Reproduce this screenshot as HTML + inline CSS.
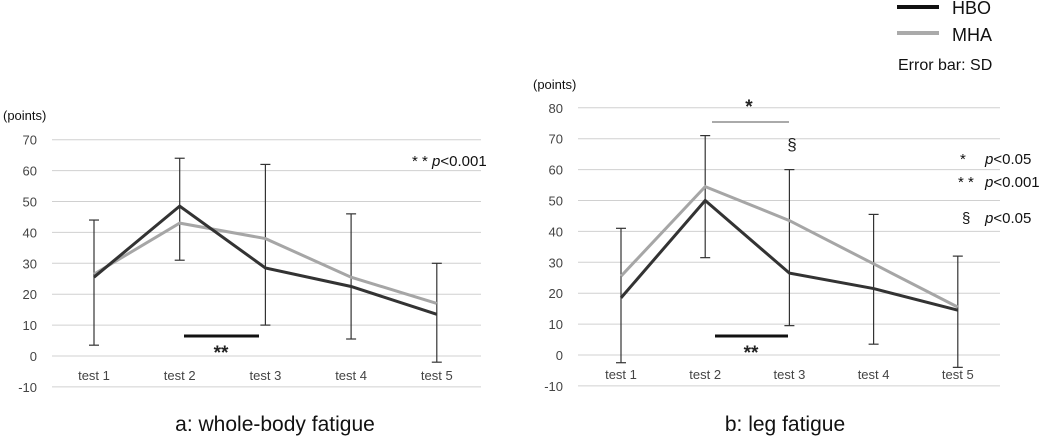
<!DOCTYPE html>
<html><head><meta charset="utf-8"><style>
html,body{margin:0;padding:0;background:#fff;}
svg{display:block;font-family:"Liberation Sans",sans-serif;}
</style></head><body>
<svg id="fig" width="1052" height="437" viewBox="0 0 1052 437">
<g id="legend">
  <line x1="897" y1="7" x2="939" y2="7" stroke="#111" stroke-width="4"/>
  <text x="952" y="14" font-size="18" fill="#111">HBO</text>
  <line x1="897" y1="33" x2="939" y2="33" stroke="#aaa" stroke-width="4"/>
  <text x="952" y="41" font-size="18" fill="#111">MHA</text>
  <text x="898" y="70" font-size="16" fill="#111">Error bar: SD</text>
</g>
</svg>
<script>
const categories = ["test 1","test 2","test 3","test 4","test 5"];
const hboA = [25.5, 48.5, 28.5, 22.5, 13.5];
const mhaA = [26.5, 43, 38, 25.5, 17];
const errLoA = [3.5, 31, 10, 5.5, -2];
const errHiA = [44, 64, 62, 46, 30];
const ticksA = [70,60,50,40,30,20,10,0,-10];
const hboB = [18.5, 50, 26.5, 21.5, 14.5];
const mhaB = [25.5, 54.5, 43.5, 29.5, 15.5];
const errLoB = [-2.5, 31.5, 9.5, 3.5, -4];
const errHiB = [41, 71, 60, 45.5, 32];
const ticksB = [80,70,60,50,40,30,20,10,0,-10];

const NS="http://www.w3.org/2000/svg";
const svg=document.getElementById('fig');
function mk(tag,attrs,parent,text){const e=document.createElementNS(NS,tag);for(const k in attrs)e.setAttribute(k,attrs[k]);if(text!==undefined)e.textContent=text;(parent||svg).appendChild(e);return e;}

function chart(cfg){
  const g=mk('g',{});
  
  
  const y=v=>cfg.y0-v*cfg.pxPer;
  const x=i=>cfg.x0+i*cfg.dx;
  cfg.ticks.forEach(t=>{
    const l=mk('line',{x1:cfg.left,x2:cfg.right,y1:y(t),y2:y(t),stroke:'#d0d0d0','stroke-width':1},g);
    
    
    const tx=mk('text',{x:cfg.left-15,y:y(t)+5,'font-size':13,fill:'#444','text-anchor':'end'},g,String(t));
    
    
  });
  categories.forEach((c,i)=>{
    const tx=mk('text',{x:x(i),y:y(0)+24,'font-size':13,fill:'#444','text-anchor':'middle'},g,c);
    
    
  });
  cfg.lo.forEach((lo,i)=>{
    const hi=cfg.hi[i];
    const eg=mk('g',{stroke:'#333','stroke-width':1.2},g);
    
    
    mk('line',{x1:x(i),x2:x(i),y1:y(lo),y2:y(hi)},eg);
    mk('line',{x1:x(i)-5,x2:x(i)+5,y1:y(lo),y2:y(lo)},eg);
    mk('line',{x1:x(i)-5,x2:x(i)+5,y1:y(hi),y2:y(hi)},eg);
  });
  const mp=mk('polyline',{points:cfg.mha.map((v,i)=>x(i)+','+y(v)).join(' '),fill:'none',stroke:'#a6a6a6','stroke-width':3},g);
  
  
  const hp=mk('polyline',{points:cfg.hbo.map((v,i)=>x(i)+','+y(v)).join(' '),fill:'none',stroke:'#333','stroke-width':3},g);
  
  
  const pt=mk('text',{x:cfg.ptsX,y:cfg.ptsY,'font-size':13,fill:'#111'},g,'(points)');
  
  
  const ti=mk('text',{x:cfg.titleX,y:431,'font-size':21,fill:'#111','text-anchor':'middle'},g,cfg.title);
  
  
  return g;
}
const gA=chart({name:'chart-a-whole-body',x0:94,dx:85.7,y0:356,pxPer:3.09,left:52,right:481,ticks:ticksA,hbo:hboA,mha:mhaA,lo:errLoA,hi:errHiA,ptsX:3,ptsY:120,titleX:275,title:'a: whole-body fatigue'});
const gB=chart({name:'chart-b-leg',x0:621,dx:84.2,y0:355,pxPer:3.09,left:578,right:1000,ticks:ticksB,hbo:hboB,mha:mhaB,lo:errLoB,hi:errHiB,ptsX:533,ptsY:89,titleX:785,title:'b: leg fatigue'});

function ann(parent,name,tag,attrs,text){const e=mk(tag,attrs,parent,text);return e;}
ann(gA,'significance-bar','line',{x1:184,x2:259,y1:336,y2:336,stroke:'#111','stroke-width':3});
ann(gA,'significance-marker','text',{x:221,y:359,'font-size':19,'font-weight':'bold',fill:'#222','text-anchor':'middle'},'**');
const pa=ann(gA,'p-value-note','text',{x:412,y:166,'font-size':15,fill:'#111'},'* * ');
mk('tspan',{'font-style':'italic'},pa,'p');mk('tspan',{},pa,'<0.001');

ann(gB,'significance-bar-hbo','line',{x1:715,x2:788,y1:336,y2:336,stroke:'#111','stroke-width':3});
ann(gB,'significance-marker-hbo','text',{x:751,y:359,'font-size':19,'font-weight':'bold',fill:'#222','text-anchor':'middle'},'**');
ann(gB,'significance-bar-mha','line',{x1:712,x2:789,y1:122,y2:122,stroke:'#aaa','stroke-width':2});
ann(gB,'significance-marker-mha','text',{x:749,y:113,'font-size':19,'font-weight':'bold',fill:'#222','text-anchor':'middle'},'*');
ann(gB,'section-marker','text',{x:792,y:150,'font-size':17,fill:'#222','text-anchor':'middle'},'§');
const p1=ann(gB,'p-value-note-1','text',{x:960,y:164,'font-size':15,fill:'#111'},'*');
mk('tspan',{x:985,'font-style':'italic'},p1,'p');mk('tspan',{},p1,'<0.05');
const p2=ann(gB,'p-value-note-2','text',{x:958,y:187,'font-size':15,fill:'#111'},'* * ');
mk('tspan',{x:985,'font-style':'italic'},p2,'p');mk('tspan',{},p2,'<0.001');
const p3=ann(gB,'p-value-note-3','text',{x:962,y:223,'font-size':15,fill:'#111'},'§');
mk('tspan',{x:985,'font-style':'italic'},p3,'p');mk('tspan',{},p3,'<0.05');
</script>
</body></html>
